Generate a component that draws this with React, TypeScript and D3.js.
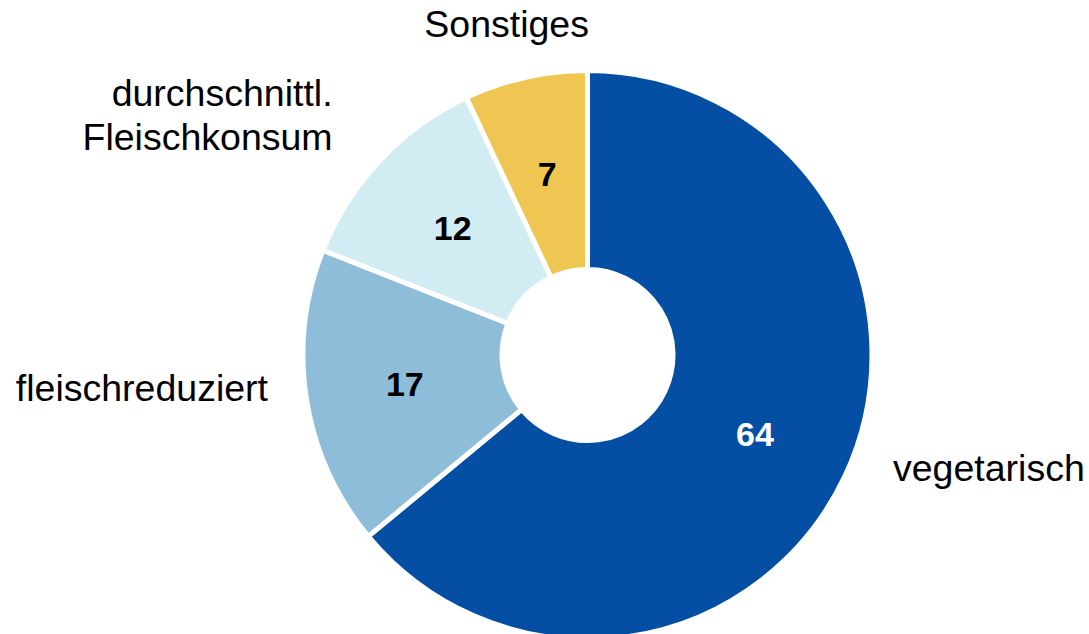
import React from "react";
import * as d3 from "d3";

const categories = ["vegetarisch", "fleischreduziert", "durchschnittl.\nFleischkonsum", "Sonstiges"];
const values = [64, 17, 12, 7];
const colors = ["#044FA3", "#8EBDD9", "#D1ECF3", "#F0C653"];
const valueColors = ["#ffffff", "#000000", "#000000", "#000000"];

const W = 1089;
const H = 634;
const cx = 587.5;
const cy = 355;
const outerR = 284.5;
const innerR = 85.5;
const labelR = 325;
// layout nudges for outer labels (dx, dy) and anchors
const labelNudge: [number, number][] = [[11.4, -12.7], [1.5, -4.8], [-18, -4.5], [-10, -1]];
const labelAnchor = ["start", "end", "end", "middle"];
const fontFamily = "Liberation Sans, Arial, sans-serif";

export default function App() {
  const pie = d3.pie<number>().sort(null).value((d) => d);
  const arcs = pie(values);
  const arc = d3.arc<d3.PieArcDatum<number>>().innerRadius(innerR).outerRadius(outerR);
  const mid = d3.arc<d3.PieArcDatum<number>>().innerRadius((innerR + outerR) / 2).outerRadius((innerR + outerR) / 2);

  return (
    <svg width={W} height={H} style={{ position: "fixed", left: 0, top: 0, background: "#fff" }} fontFamily={fontFamily}>
      <g transform={`translate(${cx},${cy})`}>
        {arcs.map((a, i) => (
          <path key={i} d={arc(a) || ""} fill={colors[i]} stroke="#fff" strokeWidth={5} strokeLinejoin="miter" />
        ))}
        {arcs.map((a, i) => {
          const [x, y] = mid.centroid(a);
          return (
            <text key={"v" + i} x={x} y={y + 12} textAnchor="middle" fontSize={34} fontWeight="bold" fill={valueColors[i]}>
              {values[i]}
            </text>
          );
        })}
        {arcs.map((a, i) => {
          const m = (a.startAngle + a.endAngle) / 2;
          const x = labelR * Math.sin(m) + labelNudge[i][0];
          const y = -labelR * Math.cos(m) + labelNudge[i][1];
          const lines = categories[i].split("\n");
          const lh = 44;
          const y0 = y - ((lines.length - 1) * lh) / 2;
          return (
            <text key={"l" + i} x={x} y={y0} textAnchor={labelAnchor[i]} fontSize={37.5} fill="#000">
              {lines.map((ln, j) => (
                <tspan key={j} x={x} y={y0 + j * lh}>
                  {ln}
                </tspan>
              ))}
            </text>
          );
        })}
      </g>
    </svg>
  );
}
